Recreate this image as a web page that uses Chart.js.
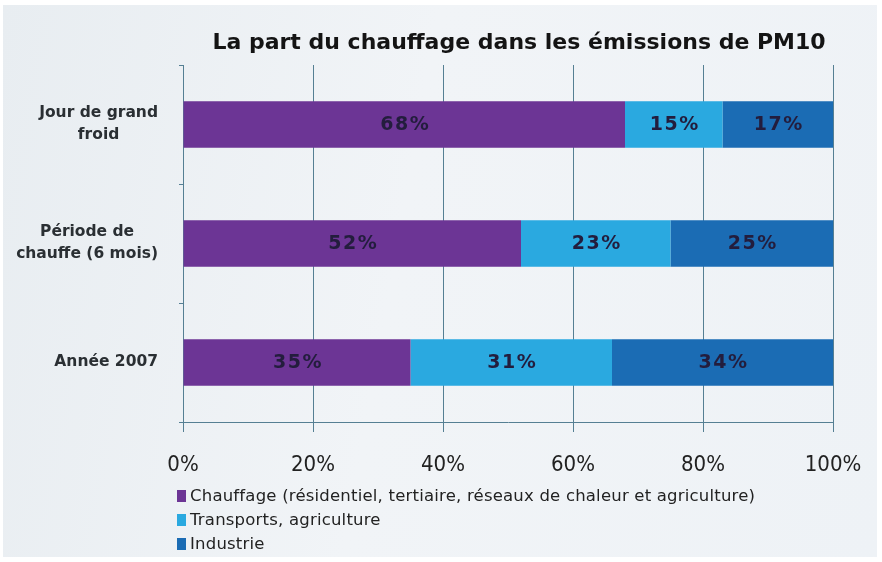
<!DOCTYPE html>
<html>
<head>
<meta charset="utf-8">
<script src="https://cdn.jsdelivr.net/npm/chart.js@4"></script>
<style>
  html, body { margin: 0; padding: 0; }
  body { width: 882px; height: 562px; overflow: hidden; background: #fff; }
  #wrap { position: absolute; left: 3px; top: 5px; width: 874px; height: 552px;
          background: linear-gradient(100deg, #e8edf1 0%, #f1f4f7 45%, #eef2f6 100%); }
  #chart { position: absolute; left: -3px; top: -5px; }
  #legend { position: absolute; left: 174px; top: 479px; font-family: "DejaVu Sans", Verdana, sans-serif;
            font-size: 16.5px; color: #222; line-height: 24px; letter-spacing: 0.2px; }
  #legend span.box { display: inline-block; width: 9px; height: 12px; margin-right: 4px; vertical-align: -1px; }
</style>
</head>
<body>
<div id="wrap">
  <canvas id="chart" width="882" height="562"></canvas>
  <div id="legend"></div>
</div>
<script>
const title = 'La part du chauffage dans les émissions de PM10';
const categories = [['Jour de grand', 'froid'], ['Période de', 'chauffe (6 mois)'], 'Année 2007'];
const seriesNames = ['Chauffage (résidentiel, tertiaire, réseaux de chaleur et agriculture)', 'Transports, agriculture', 'Industrie'];
const chauffage = [68, 52, 35];
const transports = [15, 23, 31];
const industrie = [17, 25, 34];
const colors = ['#6c3595', '#2aa9e0', '#1b6cb4'];

// valeurs dans les barres
const labelPlugin = {
  id: 'barLabels',
  afterDatasetsDraw(chart) {
    const ctx = chart.ctx;
    ctx.save();
    ctx.font = 'bold 19px "DejaVu Sans", Verdana, sans-serif';
    ctx.letterSpacing = '1.5px';
    ctx.fillStyle = '#231d3d';
    ctx.textAlign = 'center';
    ctx.textBaseline = 'middle';
    chart.data.datasets.forEach((ds, i) => {
      chart.getDatasetMeta(i).data.forEach((bar, j) => {
        ctx.fillText(ds.data[j] + '%', (bar.x + bar.base) / 2 + 1, bar.y + 1);
      });
    });
    ctx.restore();
  }
};

// titre + libellés des catégories (bloc aligné à droite, lignes centrées entre elles)
const textPlugin = {
  id: 'texts',
  afterDraw(chart) {
    const ctx = chart.ctx;
    const y = chart.scales.y;
    const area = chart.chartArea;
    ctx.save();
    ctx.font = 'bold 22px "DejaVu Sans", sans-serif';
    ctx.fillStyle = '#141414';
    ctx.textAlign = 'center';
    ctx.textBaseline = 'middle';
    ctx.fillText(title, (area.left + area.right) / 2 + 11, 43);

    ctx.font = 'bold 15.5px "DejaVu Sans", Verdana, sans-serif';
    ctx.fillStyle = '#2a2f33';
    const right = y.right - 25;
    chart.data.labels.forEach((lab, i) => {
      const lines = Array.isArray(lab) ? lab : [lab];
      const w = Math.max(...lines.map(l => ctx.measureText(l).width));
      const cx = right - w / 2;
      const cy = y.getPixelForValue(i);
      const lh = 22;
      lines.forEach((l, k) => {
        ctx.fillText(l, cx, cy + (k - (lines.length - 1) / 2) * lh - 1);
      });
    });
    ctx.restore();
  }
};

const ctx = document.getElementById('chart').getContext('2d');
new Chart(ctx, {
  type: 'bar',
  data: {
    labels: categories,
    datasets: [
      { label: seriesNames[0], data: chauffage, backgroundColor: colors[0] },
      { label: seriesNames[1], data: transports, backgroundColor: colors[1] },
      { label: seriesNames[2], data: industrie, backgroundColor: colors[2] }
    ]
  },
  options: {
    indexAxis: 'y',
    responsive: false,
    animation: false,
    barPercentage: 0.39,
    categoryPercentage: 1,
    layout: { padding: { left: 0, right: 49, top: 65, bottom: 80 } },
    scales: {
      x: {
        stacked: true,
        min: 0,
        max: 100,
        ticks: {
          stepSize: 20,
          callback: v => v + '%',
          color: '#222',
          font: { family: '"DejaVu Sans Condensed", "DejaVu Sans", sans-serif', size: 22 },
          padding: 20
        },
        grid: { color: '#557f93', lineWidth: 1, tickLength: 10 },
        border: { color: '#557f93' },
        afterFit: s => { s.height = 60; }
      },
      y: {
        stacked: true,
        offset: true,
        ticks: { display: false },
        grid: { offset: true, drawOnChartArea: false, color: '#557f93', tickLength: 4 },
        border: { color: '#557f93' },
        afterFit: s => { s.width = 183; }
      }
    },
    plugins: {
      legend: { display: false },
      tooltip: { enabled: false },
      title: { display: false }
    }
  },
  plugins: [labelPlugin, textPlugin]
});

const legend = document.getElementById('legend');
seriesNames.forEach((name, i) => {
  const row = document.createElement('div');
  const box = document.createElement('span');
  box.className = 'box';
  box.style.background = colors[i];
  row.appendChild(box);
  row.appendChild(document.createTextNode(name));
  legend.appendChild(row);
});
</script>
</body>
</html>
